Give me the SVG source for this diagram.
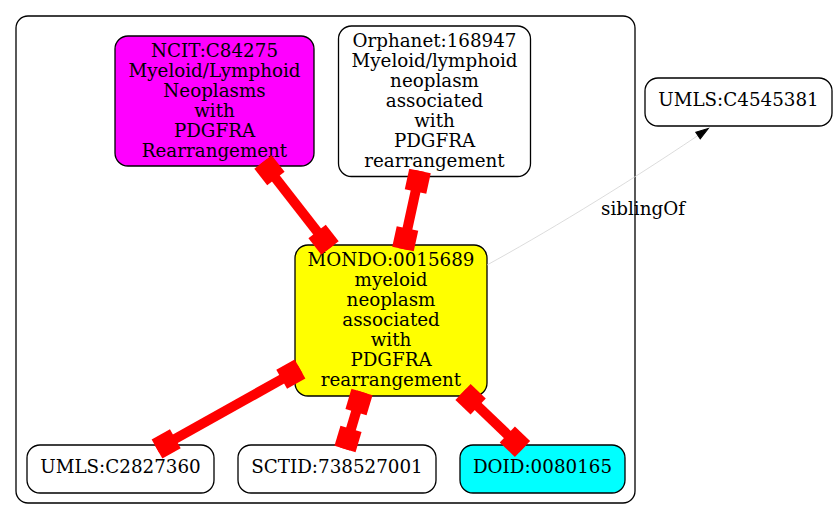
<svg xmlns="http://www.w3.org/2000/svg" width="837" height="520" viewBox="0 0 837 520">
<defs>
<style>
text{font-family:"DejaVu Serif","Liberation Serif",serif;font-size:18.3px;fill:#000;text-anchor:middle}
.node{stroke:#000;stroke-width:1.3}
.e{stroke:#ff0000;stroke-width:10;fill:none;marker-start:url(#box);marker-end:url(#box)}
</style>
<marker id="box" markerUnits="userSpaceOnUse" orient="auto-start-reverse" markerWidth="30" markerHeight="30" refX="0" refY="0" overflow="visible">
<rect x="-21" y="-11" width="21" height="22" fill="#ff0000"/>
</marker>
<marker id="arr" markerUnits="userSpaceOnUse" orient="auto" markerWidth="20" markerHeight="20" refX="0" refY="0" overflow="visible">
<path d="M0,-4 L12.5,0 L0,4 Z" fill="#000" stroke="#000" stroke-width="1"/>
</marker>
</defs>
<rect width="837" height="520" fill="#fff"/>
<g id="cluster">
<rect x="16" y="16" width="619" height="487" rx="12" fill="none" stroke="#000" stroke-width="1.3"/>
</g>
<g id="ncit">
<rect class="node" x="115" y="36" width="199" height="130" rx="13" fill="#ff00ff"/>
<text x="214.5" y="56.7">NCIT:C84275</text>
<text x="214.5" y="76.7">Myeloid/Lymphoid</text>
<text x="214.5" y="96.7">Neoplasms</text>
<text x="214.5" y="116.7">with</text>
<text x="214.5" y="136.7">PDGFRA</text>
<text x="214.5" y="156.7">Rearrangement</text>
</g>
<g id="orphanet">
<rect class="node" x="338.5" y="26" width="192" height="150.5" rx="13" fill="#fff"/>
<text x="434.5" y="46.7">Orphanet:168947</text>
<text x="434.5" y="66.7">Myeloid/lymphoid</text>
<text x="434.5" y="86.7">neoplasm</text>
<text x="434.5" y="106.7">associated</text>
<text x="434.5" y="126.7">with</text>
<text x="434.5" y="146.7">PDGFRA</text>
<text x="434.5" y="166.7">rearrangement</text>
</g>
<g id="mondo">
<rect class="node" x="295" y="245" width="192" height="151" rx="13" fill="#ffff00"/>
<text x="391" y="266">MONDO:0015689</text>
<text x="391" y="286">myeloid</text>
<text x="391" y="306">neoplasm</text>
<text x="391" y="326">associated</text>
<text x="391" y="346">with</text>
<text x="391" y="366">PDGFRA</text>
<text x="391" y="386">rearrangement</text>
</g>
<g id="umls2827360">
<rect class="node" x="27" y="445" width="187" height="48" rx="13" fill="#fff"/>
<text x="120.5" y="473">UMLS:C2827360</text>
</g>
<g id="sctid">
<rect class="node" x="238" y="445" width="198" height="48" rx="13" fill="#fff"/>
<text x="337" y="473">SCTID:738527001</text>
</g>
<g id="doid">
<rect class="node" x="460" y="445" width="165" height="48" rx="13" fill="#00ffff"/>
<text x="542.5" y="473">DOID:0080165</text>
</g>
<g id="umls4545381">
<rect class="node" x="645" y="78" width="187" height="48" rx="13" fill="#fff"/>
<text x="738.5" y="106">UMLS:C4545381</text>
</g>
<g id="edges">
<line class="e" x1="263" y1="162" x2="330" y2="248"/>
<line class="e" x1="420" y1="171" x2="403" y2="249"/>
<line class="e" x1="300" y1="369" x2="157" y2="449"/>
<line class="e" x1="362" y1="392" x2="345" y2="449"/>
<line class="e" x1="463" y1="392" x2="522.5" y2="449"/>
<path d="M487,265 C540,236 620,188 698,135.5" fill="none" stroke="#d3d3d3" stroke-width="0.8" marker-end="url(#arr)"/>
<text x="643" y="215">siblingOf</text>
</g>
</svg>
